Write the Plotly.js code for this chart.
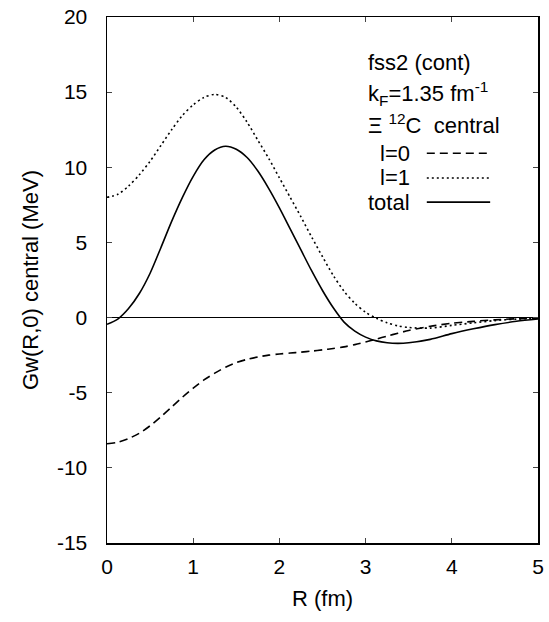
<!DOCTYPE html>
<html>
<head>
<meta charset="utf-8">
<script src="https://cdn.plot.ly/plotly-3.0.1.min.js"></script>
<style>html,body{margin:0;padding:0;background:#fff;}#chart{width:549px;height:622px;}</style>
</head>
<body>
<div id="chart"></div>
<script>
// R grid (fm)
const R = [0, 0.125, 0.25, 0.375, 0.5, 0.625, 0.75, 0.875, 1.0, 1.125, 1.25, 1.375, 1.5, 1.625, 1.75, 1.875,
           2.0, 2.125, 2.25, 2.375, 2.5, 2.625, 2.75, 2.875, 3.0, 3.125, 3.25, 3.375, 3.5, 3.75, 4.0, 4.25, 4.5, 4.75, 5.0];
// isospin l=0 (dashed)
const gwI0 = [-8.4, -8.3, -8.05, -7.7, -7.2, -6.6, -5.95, -5.3, -4.7, -4.15, -3.7, -3.3, -3.0, -2.78, -2.62, -2.5,
              -2.42, -2.36, -2.3, -2.23, -2.15, -2.06, -1.95, -1.8, -1.62, -1.43, -1.23, -1.04, -0.86, -0.58, -0.38, -0.25, -0.15, -0.08, -0.04];
// isospin l=1 (dotted)
const gwI1 = [8.0, 8.2, 8.75, 9.5, 10.4, 11.45, 12.5, 13.45, 14.15, 14.65, 14.85, 14.65, 14.0, 13.0, 11.8, 10.6,
              9.3, 8.0, 6.7, 5.35, 4.05, 2.8, 1.75, 0.95, 0.35, -0.05, -0.35, -0.55, -0.66, -0.7, -0.52, -0.35, -0.2, -0.1, -0.05];
// total (solid)
const gwTotal = [-0.45, -0.1, 0.6, 1.6, 2.95, 4.65, 6.4, 8.0, 9.4, 10.5, 11.15, 11.4, 11.2, 10.65, 9.75, 8.6,
                 7.3, 5.9, 4.5, 3.1, 1.8, 0.65, -0.3, -0.9, -1.3, -1.55, -1.68, -1.72, -1.68, -1.45, -1.07, -0.75, -0.47, -0.25, -0.1];

const legendLabels = ["l=0", "l=1", "total"];
const legendDash = ["8px,5px", "2px,3px", "solid"];
const headerLines = ["fss2 (cont)", "k<sub>F</sub>=1.35 fm<sup>-1</sup>", "\u039E <sup>12</sup>C  central"];
const xTitle = "R (fm)";
const yTitle = "Gw(R,0) central (MeV)";
const xTicks = [0, 1, 2, 3, 4, 5];
const xTickLabels = ["0", "1", "2", "3", "4", "5"];
const yTicks = [-15, -10, -5, 0, 5, 10, 15, 20];
const yTickLabels = ["-15", "-10", "-5", "0", "5", "10", "15", "20"];

const FONT = "Liberation Sans, Arial, Helvetica, sans-serif";
const lineW = 1.6;

const traces = [
  {x: R, y: gwI0, mode: "lines", line: {color: "#000", width: lineW, dash: legendDash[0], shape: "spline", smoothing: 0.8}, hoverinfo: "skip"},
  {x: R, y: gwI1, mode: "lines", line: {color: "#000", width: lineW, dash: legendDash[1], shape: "spline", smoothing: 0.8}, hoverinfo: "skip"},
  {x: R, y: gwTotal, mode: "lines", line: {color: "#000", width: lineW, dash: legendDash[2], shape: "spline", smoothing: 0.8}, hoverinfo: "skip"}
];

const annotations = [];
const shapes = [];
const headerY = [0.914, 0.855, 0.797];
headerLines.forEach((t, i) => {
  annotations.push({xref: "paper", yref: "paper", x: 0.601, y: headerY[i], text: t, showarrow: false,
    xanchor: "left", yanchor: "middle", font: {family: FONT, size: 22, color: "#000"}});
});
const legY = [0.741, 0.694, 0.648];
legendLabels.forEach((t, i) => {
  annotations.push({xref: "paper", yref: "paper", x: 0.708, y: legY[i], text: t, showarrow: false,
    xanchor: "right", yanchor: "middle", font: {family: FONT, size: 22, color: "#000"}});
  shapes.push({type: "line", xref: "paper", yref: "paper", x0: 0.742, x1: 0.889, y0: legY[i], y1: legY[i],
    line: {color: "#000", width: lineW, dash: legendDash[i]}});
});

const layout = {
  width: 549, height: 622,
  margin: {l: 107, r: 11, t: 17, b: 79, pad: 0},
  paper_bgcolor: "#fff", plot_bgcolor: "#fff",
  showlegend: false,
  font: {family: FONT, size: 21, color: "#000"},
  xaxis: {
    range: [0, 5], tickmode: "array", tickvals: xTicks, ticktext: xTickLabels, ticks: "inside", ticklen: 5, tickwidth: 1,
    showline: true, linecolor: "#000", linewidth: 1.5, mirror: "allticks", showgrid: false, zeroline: false,
    ticklabelstandoff: 4, tickfont: {family: FONT, size: 21},
    title: {text: xTitle, font: {family: FONT, size: 22}, standoff: 14}
  },
  yaxis: {
    range: [-15, 20], tickmode: "array", tickvals: yTicks, ticktext: yTickLabels, ticks: "inside", ticklen: 5, tickwidth: 1,
    showline: true, linecolor: "#000", linewidth: 1.5, mirror: "allticks", showgrid: false,
    zeroline: true, zerolinecolor: "#000", zerolinewidth: 1.5,
    ticklabelstandoff: 14, tickfont: {family: FONT, size: 21},
    title: {text: yTitle, font: {family: FONT, size: 22}, standoff: 12}
  },
  annotations: annotations,
  shapes: shapes
};

Plotly.newPlot("chart", traces, layout, {staticPlot: true, displayModeBar: false});
</script>
</body>
</html>
